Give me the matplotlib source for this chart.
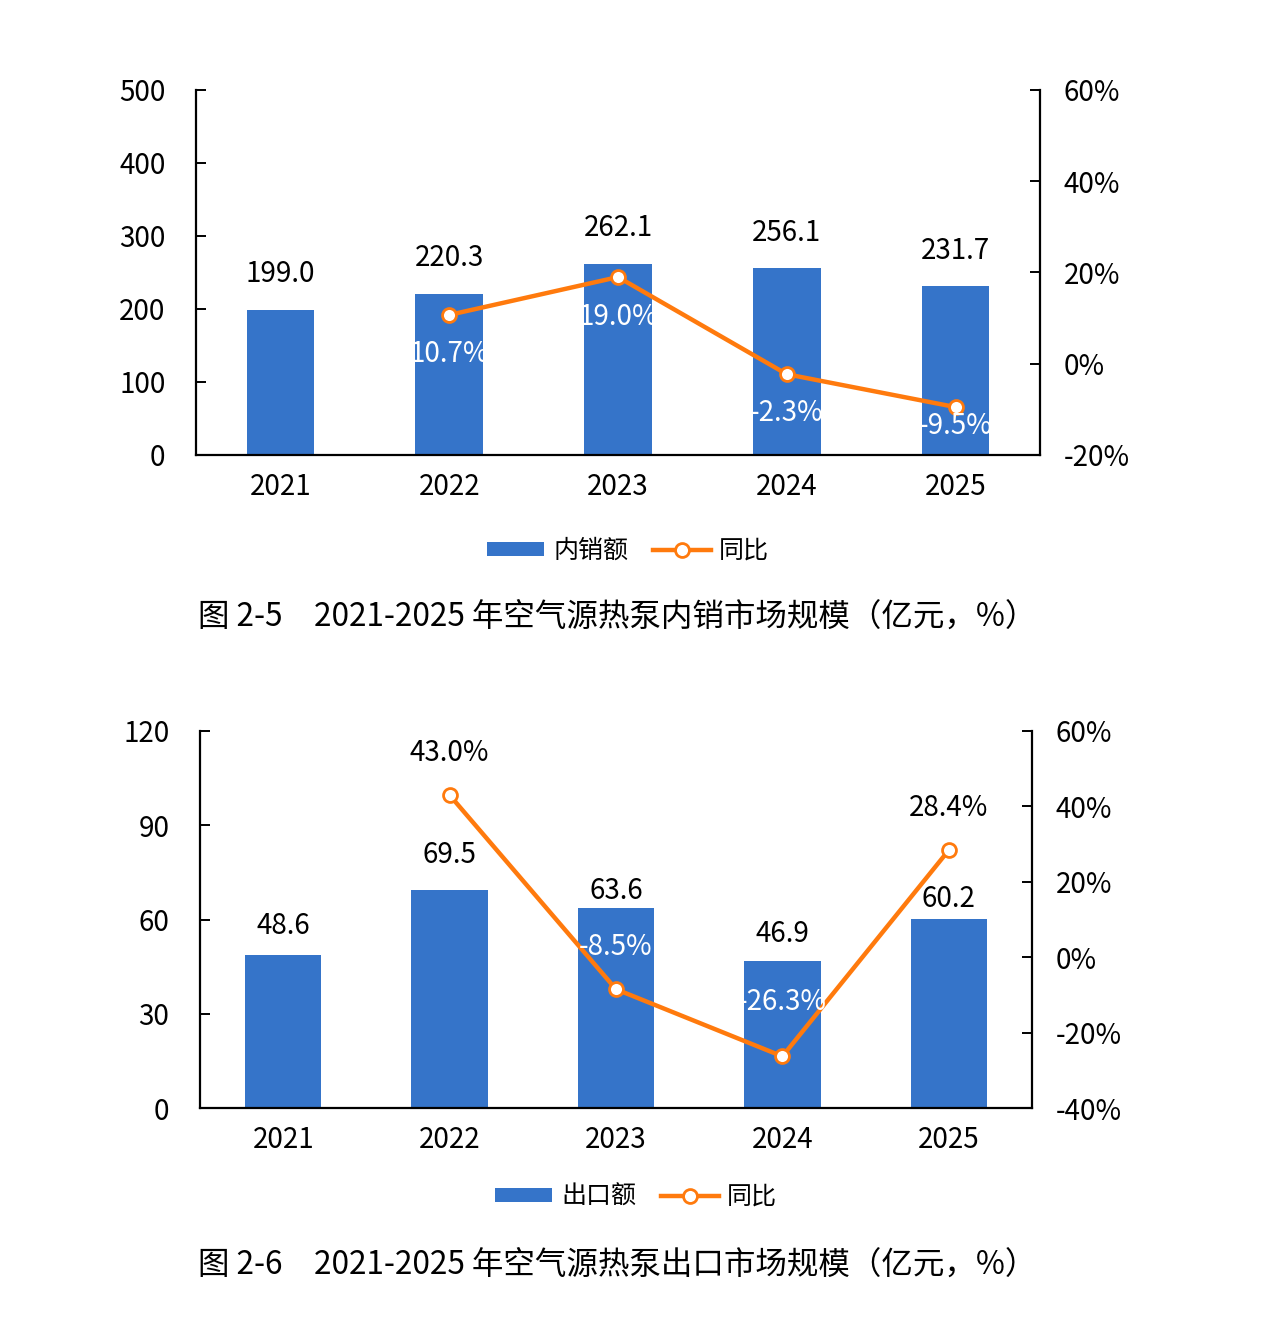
import matplotlib
matplotlib.use("Agg")
import matplotlib.pyplot as plt
from matplotlib.lines import Line2D
from matplotlib.patches import Patch

plt.rcParams['font.family'] = ['Noto Sans CJK SC', 'DejaVu Sans']
plt.rcParams['axes.unicode_minus'] = False

# ---------------- data ----------------
years = ['2021', '2022', '2023', '2024', '2025']

domestic_sales = [199.0, 220.3, 262.1, 256.1, 231.7]
domestic_yoy_years = ['2022', '2023', '2024', '2025']
domestic_yoy = [10.7, 19.0, -2.3, -9.5]

export_sales = [48.6, 69.5, 63.6, 46.9, 60.2]
export_yoy_years = ['2022', '2023', '2024', '2025']
export_yoy = [43.0, -8.5, -26.3, 28.4]

title1 = '图 2-5　2021-2025 年空气源热泵内销市场规模（亿元，%）'
title2 = '图 2-6　2021-2025 年空气源热泵出口市场规模（亿元，%）'
legend1 = ['内销额', '同比']
legend2 = ['出口额', '同比']

# ---------------- style ----------------
BAR = '#3574C9'
LINE = '#FF7A0D'
FS = 20

W, H = 1267, 1319
fig = plt.figure(figsize=(W / 100, H / 100), dpi=100)


def box(l, t, r, b):
    return [l / W, 1 - b / H, (r - l) / W, (b - t) / H]


def draw(rect, bars, yoy_years, yoy, ylim, yticks, y2lim, y2ticks, bar_w,
         bar_offs, line_offs, line_cols, leg_labels, leg_pos, title, title_pos):
    ax = fig.add_axes(rect)
    x = list(range(len(years)))
    ax.bar(x, bars, width=bar_w, color=BAR, zorder=2)
    ax.set_xlim(-0.5, len(years) - 0.5)
    ax.set_ylim(*ylim)
    ax.set_yticks(yticks)
    ax.set_xticks(x)
    ax.set_xticklabels(years)
    for s in ['top', 'right']:
        ax.spines[s].set_visible(False)
    for s in ['left', 'bottom']:
        ax.spines[s].set_linewidth(1.6)
    ax.tick_params(axis='y', direction='in', length=7, width=1.4, pad=22, labelsize=FS)
    ax.tick_params(axis='x', length=0, pad=12, labelsize=FS)
    for xi, v, off in zip(x, bars, bar_offs):
        ax.annotate(f'{v:.1f}', (xi, v), xytext=(0, off), textcoords='offset pixels',
                    ha='center', va='center', fontsize=FS, color='black')

    ax2 = ax.twinx()
    ax2.set_ylim(*y2lim)
    ax2.set_yticks(y2ticks)
    ax2.set_yticklabels([f'{t}%' for t in y2ticks])
    for s in ['top', 'left', 'bottom']:
        ax2.spines[s].set_visible(False)
    ax2.spines['right'].set_linewidth(1.6)
    ax2.tick_params(axis='y', direction='in', length=7, width=1.4, pad=17, labelsize=FS)
    lx = [years.index(y) for y in yoy_years]
    ax2.plot(lx, yoy, color=LINE, lw=3.2, marker='o', ms=10, mfc='white',
             mec=LINE, mew=2, zorder=3)
    for xi, v, off, c in zip(lx, yoy, line_offs, line_cols):
        ax2.annotate(f'{v:.1f}%', (xi, v), xytext=(0, off), textcoords='offset pixels',
                     ha='center', va='center', fontsize=FS, color=c)

    handles = [Patch(facecolor=BAR, edgecolor='none'),
               Line2D([], [], color=LINE, lw=3.2, marker='o', ms=10, mfc='white',
                      mec=LINE, mew=2)]
    fig.legend(handles, leg_labels, loc='center',
               bbox_to_anchor=(leg_pos[0] / W, 1 - leg_pos[1] / H),
               ncol=2, frameon=False, fontsize=18, handlelength=2.3,
               handleheight=0.5, handletextpad=0.35, columnspacing=1.0)
    fig.text(title_pos[0] / W, 1 - title_pos[1] / H, title, ha='center', va='center',
             fontsize=22.7)


draw(box(196, 90, 1040, 455), domestic_sales, domestic_yoy_years, domestic_yoy,
     (0, 500), [0, 100, 200, 300, 400, 500], (-20, 60), [-20, 0, 20, 40, 60], 0.40,
     [36, 36, 36, 35, 35], [-39, -40, -39, -19], ['white'] * 4,
     legend1, (628, 551), title1, (617, 617))

draw(box(200, 731, 1032, 1108), export_sales, export_yoy_years, export_yoy,
     (0, 120), [0, 30, 60, 90, 120], (-40, 60), [-40, -20, 0, 20, 40, 60], 0.46,
     [29, 35, 17, 27, 20], [42, 42, 54, 42], ['black', 'white', 'white', 'black'],
     legend2, (636, 1197), title2, (617, 1265))

fig.savefig('out.png', dpi=100, facecolor='white')
